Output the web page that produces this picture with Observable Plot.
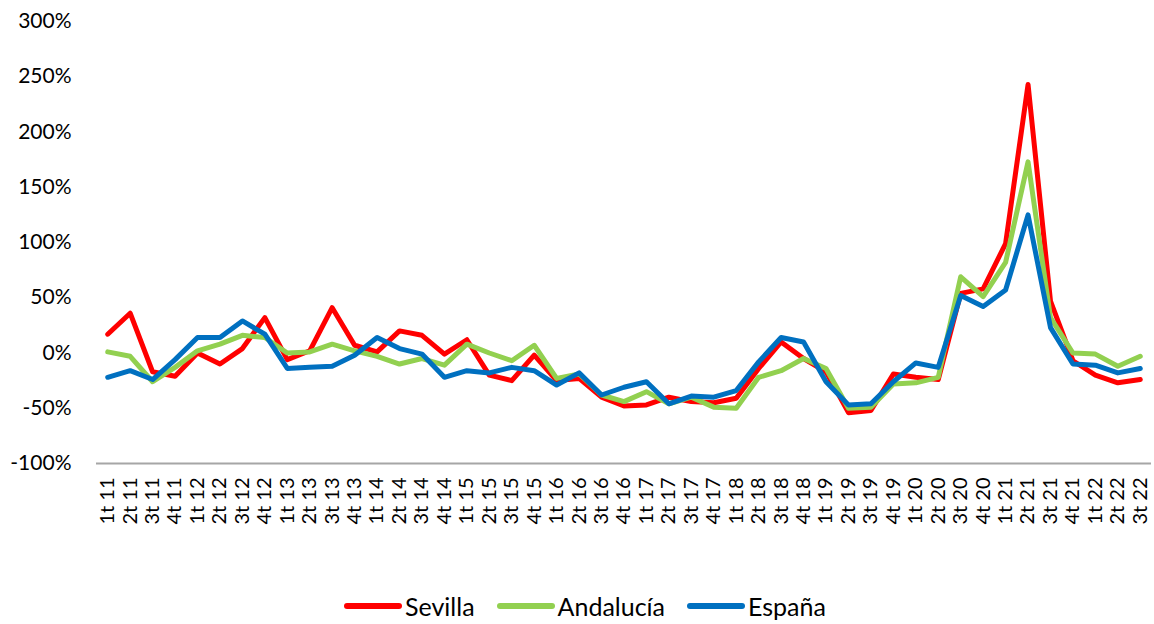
<!DOCTYPE html>
<html>
<head>
<meta charset="utf-8">
<script src="https://cdn.jsdelivr.net/npm/d3@7"></script>
<script src="https://cdn.jsdelivr.net/npm/@observablehq/plot@0.6"></script>
<style>
  html, body { margin: 0; background: #fff; font-family: Lato, "Open Sans", sans-serif; overflow: hidden; }
  #chart svg { display: block; }
  #legend { display: flex; justify-content: center; align-items: center; gap: 22px; height: 40px; font-size: 25px; color: #000; margin-left: 16px; margin-top: 14px; }
  .item { display: flex; align-items: center; gap: 3px; }
  .swatch { width: 58px; height: 6px; border-radius: 3px; }
</style>
</head>
<body>
<div id="chart"></div>
<div id="legend"></div>
<script>
const quarters = [
  "1t 11","2t 11","3t 11","4t 11","1t 12","2t 12","3t 12","4t 12",
  "1t 13","2t 13","3t 13","4t 13","1t 14","2t 14","3t 14","4t 14",
  "1t 15","2t 15","3t 15","4t 15","1t 16","2t 16","3t 16","4t 16",
  "1t 17","2t 17","3t 17","4t 17","1t 18","2t 18","3t 18","4t 18",
  "1t 19","2t 19","3t 19","4t 19","1t 20","2t 20","3t 20","4t 20",
  "1t 21","2t 21","3t 21","4t 21","1t 22","2t 22","3t 22"
];
const sevilla = [
  17, 36, -17, -21, 0, -10, 4, 32,
  -6, 2, 41, 7, 1, 20, 16, -1,
  12, -20, -25, -2, -25, -23, -40, -48,
  -47, -40, -44, -45, -41, -14, 10, -5,
  -17, -54, -52, -19, -22, -24, 54, 58,
  99, 243, 47, -7, -20, -27, -24
];
const andalucia = [
  1, -3, -26, -13, 2, 8, 16, 14,
  0, 1, 8, 2, -3, -10, -5, -11,
  8, 0, -7, 7, -23, -19, -38, -44,
  -35, -46, -40, -49, -50, -22, -16, -5,
  -14, -50, -49, -28, -27, -22, 69, 51,
  82, 173, 32, 0, -1, -12, -3
];
const espana = [
  -22, -16, -24, -6, 14, 14, 29, 17,
  -14, -13, -12, -2, 14, 4, -1, -22,
  -16, -18, -13, -16, -29, -18, -38, -31,
  -26, -46, -39, -40, -34, -8, 14, 10,
  -26, -47, -46, -26, -9, -13, 52, 42,
  57, 125, 23, -10, -11, -18, -14
];
const seriesNames = ["Sevilla", "Andalucía", "España"];
const seriesColors = ["#FF0000", "#92D050", "#0070C0"];
const yTicks = [-100, -50, 0, 50, 100, 150, 200, 250, 300];

const seriesValues = [sevilla, andalucia, espana];
const data = seriesNames.flatMap((name, s) =>
  quarters.map((q, i) => ({ serie: name, quarter: q, value: seriesValues[s][i] }))
);

const chart = Plot.plot({
  width: 1154,
  height: 572,
  marginLeft: 96,
  marginRight: 3,
  marginTop: 21,
  marginBottom: 109,
  style: { fontFamily: "Lato, 'Open Sans', sans-serif", fontSize: "21px", color: "#000", background: "#fff" },
  x: { type: "point", domain: quarters, padding: 0.5, round: false, label: null },
  y: { domain: [-100, 300], label: null },
  color: { domain: seriesNames, range: seriesColors },
  marks: [
    Plot.axisY({ ticks: yTicks, tickSize: 0, tickPadding: 25, tickFormat: d => d + "%", label: null, fontSize: 21 }),
    Plot.axisX({ tickSize: 0, tickPadding: 14, tickRotate: -90, label: null, fontSize: 20 }),
    Plot.ruleY([-100], { stroke: "#A6A6A6", strokeWidth: 2 }),
    Plot.line(data, { x: "quarter", y: "value", z: "serie", stroke: "serie", strokeWidth: 5, strokeLinejoin: "round", strokeLinecap: "round" })
  ]
});
document.getElementById("chart").appendChild(chart);

const legend = document.getElementById("legend");
seriesNames.forEach((n, i) => {
  const it = document.createElement("div");
  it.className = "item";
  const sw = document.createElement("div");
  sw.className = "swatch";
  sw.style.background = seriesColors[i];
  const tx = document.createElement("span");
  tx.textContent = n;
  it.appendChild(sw); it.appendChild(tx);
  legend.appendChild(it);
});
</script>
</body>
</html>
